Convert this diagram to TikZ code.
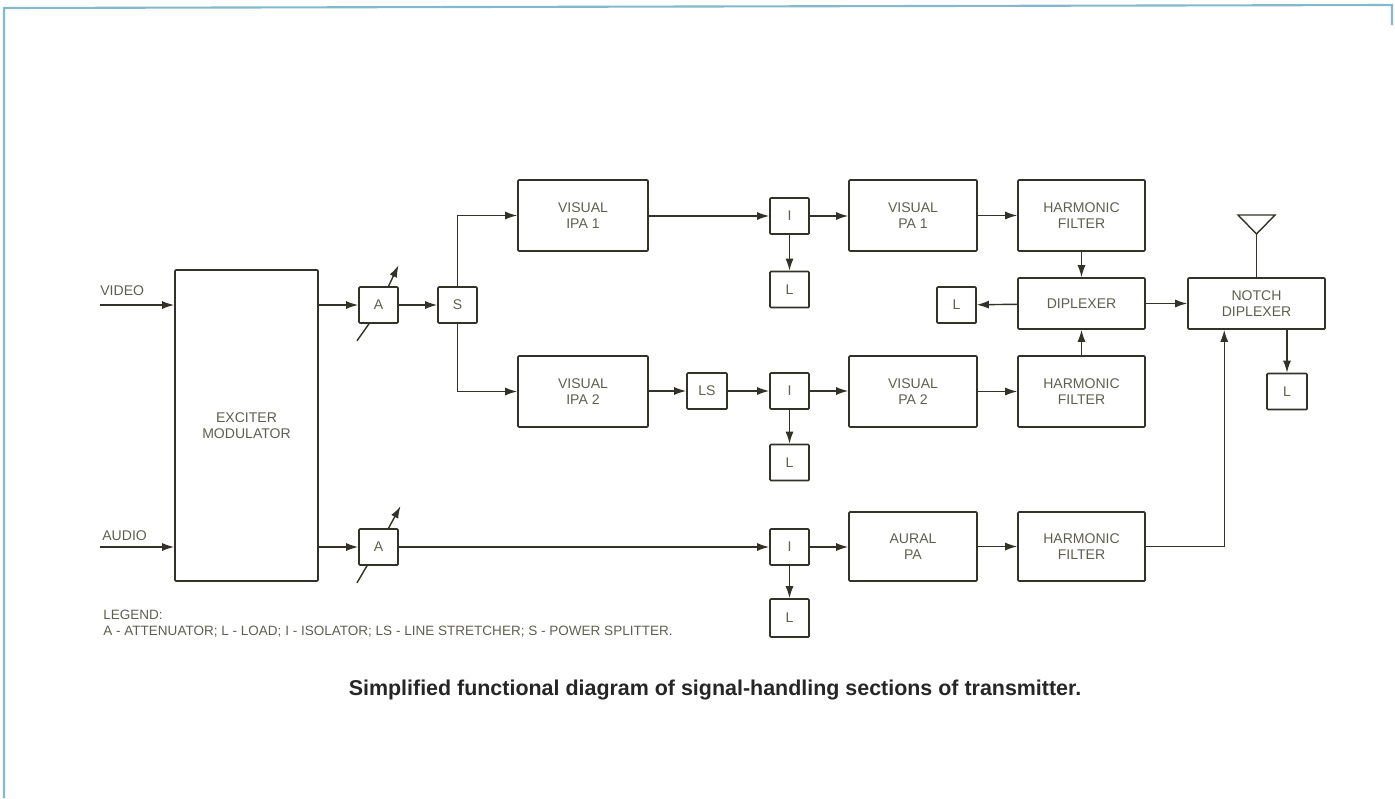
\documentclass[tikz,border=0pt]{standalone}
\usepackage{fontspec}
\setmainfont{Liberation Sans}
\usetikzlibrary{arrows.meta,calc}
\definecolor{ink}{RGB}{50,50,40}
\definecolor{txt}{RGB}{95,95,80}
\definecolor{frame}{RGB}{130,185,205}
\begin{document}
\begin{tikzpicture}[x=0.02cm,y=-0.02cm,
  blk/.style={draw=ink,line width=0.9pt,rounded corners=0.5pt,inner sep=1pt,align=center,
     font=\fontsize{8}{9}\selectfont,text=txt},
  small/.style={blk,minimum width=0.78cm,minimum height=0.72cm},
  big/.style={blk,minimum width=2.6cm,minimum height=1.42cm},
  arr/.style={draw=ink,line width=0.8pt,-{Latex[length=2.4mm,width=1.6mm]}},
  ln/.style={draw=ink,line width=0.8pt},
  lbl/.style={font=\fontsize{8}{9}\selectfont,text=txt,anchor=west,inner sep=0pt}]
\useasboundingbox (0,0) rectangle (1395,798);
% frame
\draw[frame,line width=1.2pt] (4,798) -- (4,8) -- (1392,5) -- (1392,25);

% blocks
\node[blk,minimum width=2.86cm,minimum height=6.22cm] (exc) at (246.5,425.5) {EXCITER\\MODULATOR};
\node[small] (A1) at (378.5,305) {A};
\node[small] (S) at (457.5,305) {S};
\node[big] (IPA1) at (583,215.5) {VISUAL\\IPA 1};
\node[big] (IPA2) at (583,391.5) {VISUAL\\IPA 2};
\node[small] (I1) at (789.5,216) {I};
\node[small] (L1) at (789.5,289.5) {L};
\node[small,minimum width=0.8cm] (LS) at (707,391) {LS};
\node[small] (I2) at (789.5,391) {I};
\node[small] (L2) at (789.5,462.5) {L};
\node[big,minimum width=2.56cm] (PA1) at (913,215.5) {VISUAL\\PA 1};
\node[big,minimum width=2.56cm] (PA2) at (913,391.5) {VISUAL\\PA 2};
\node[big,minimum width=2.54cm] (HF1) at (1081.5,215.5) {HARMONIC\\FILTER};
\node[big,minimum width=2.54cm] (HF2) at (1081.5,391.5) {HARMONIC\\FILTER};
\node[blk,minimum width=2.54cm,minimum height=1.02cm] (DIP) at (1081.5,303.5) {DIPLEXER};
\node[small] (LD) at (956.5,305) {L};
\node[blk,minimum width=2.74cm,minimum height=1.02cm] (ND) at (1256.5,303.5) {NOTCH\\DIPLEXER};
\node[small,minimum width=0.8cm] (LN) at (1287,391.5) {L};
\node[small] (A2) at (378.5,547) {A};
\node[small] (I3) at (789.5,547) {I};
\node[small,minimum height=0.76cm] (L3) at (789.5,618) {L};
\node[big,minimum width=2.56cm,minimum height=1.38cm] (APA) at (913,546.5) {AURAL\\PA};
\node[big,minimum width=2.54cm,minimum height=1.38cm] (HF3) at (1081.5,546.5) {HARMONIC\\FILTER};

% inputs
\node[lbl] (vlab) at (100,291) {VIDEO};
\node[lbl] (alab) at (102,536) {AUDIO};
\coordinate (vin) at (100,305);
\coordinate (ain) at (100,547);
\draw[arr] (vin) -- (vin -| exc.west);
\draw[arr] (ain) -- (ain -| exc.west);

% video chain
\draw[arr] (exc.east |- A1) -- (A1);
\draw[arr] (A1) -- (S);
\draw[arr] (S.north) |- (IPA1.west);
\draw[arr] (S.south) |- (IPA2.west);
\draw[arr] (IPA1.east |- I1) -- (I1);
\draw[arr] (I1) -- (PA1.west |- I1);
\draw[arr] (I1) -- (L1);
\draw[arr] (PA1) -- (HF1);
\draw[arr] (IPA2.east |- LS) -- (LS);
\draw[arr] (LS) -- (I2);
\draw[arr] (I2) -- (PA2.west |- I2);
\draw[arr] (I2) -- (L2);
\draw[arr] (PA2) -- (HF2);
\draw[arr] (HF1) -- (DIP);
\draw[arr] (HF2) -- (DIP);
\draw[arr] (DIP) -- (LD);
\draw[arr] (DIP) -- (ND);
\draw[arr] (ND.south -| LN) -- (LN);

% antenna
\coordinate (ant) at (1256.5,234);
\draw[ln] (ND.north) -- (ant);
\draw[ln,line join=miter] (ant) -- (1238,215) -- (1275,215) -- cycle;

% audio chain
\draw[arr] (exc.east |- A2) -- (A2);
\draw[arr] (A2) -- (I3);
\draw[arr] (I3) -- (APA.west |- I3);
\draw[arr] (I3) -- (L3);
\draw[arr] (APA.east |- HF3) -- (HF3);
\draw[arr] (HF3.east) -| ([xshift=0.74cm]ND.south west);

% attenuator arrows
\draw[ln] ($(A1.south)+(-9.5,0)$) -- ++(-12,17);
\draw[arr] ($(A1.north)+(10,0)$) -- ++(10,-21);
\draw[ln] ($(A2.south)+(-11.5,0)$) -- ++(-10,17);
\draw[arr] ($(A2.north)+(10,0)$) -- ++(12,-22);

% legend
\node[lbl,font=\fontsize{7.7}{8}\selectfont] (leg1) at (103,615) {LEGEND:};
\node[lbl,font=\fontsize{7.7}{8}\selectfont] (leg2) at (103,632) {A - ATTENUATOR; L - LOAD; I - ISOLATOR; LS - LINE STRETCHER; S - POWER SPLITTER.};

% caption
\node[font=\bfseries\fontsize{12.2}{14}\selectfont,text=black!85] (cap) at (715,690) {Simplified functional diagram of signal-handling sections of transmitter.};
\end{tikzpicture}
\end{document}
